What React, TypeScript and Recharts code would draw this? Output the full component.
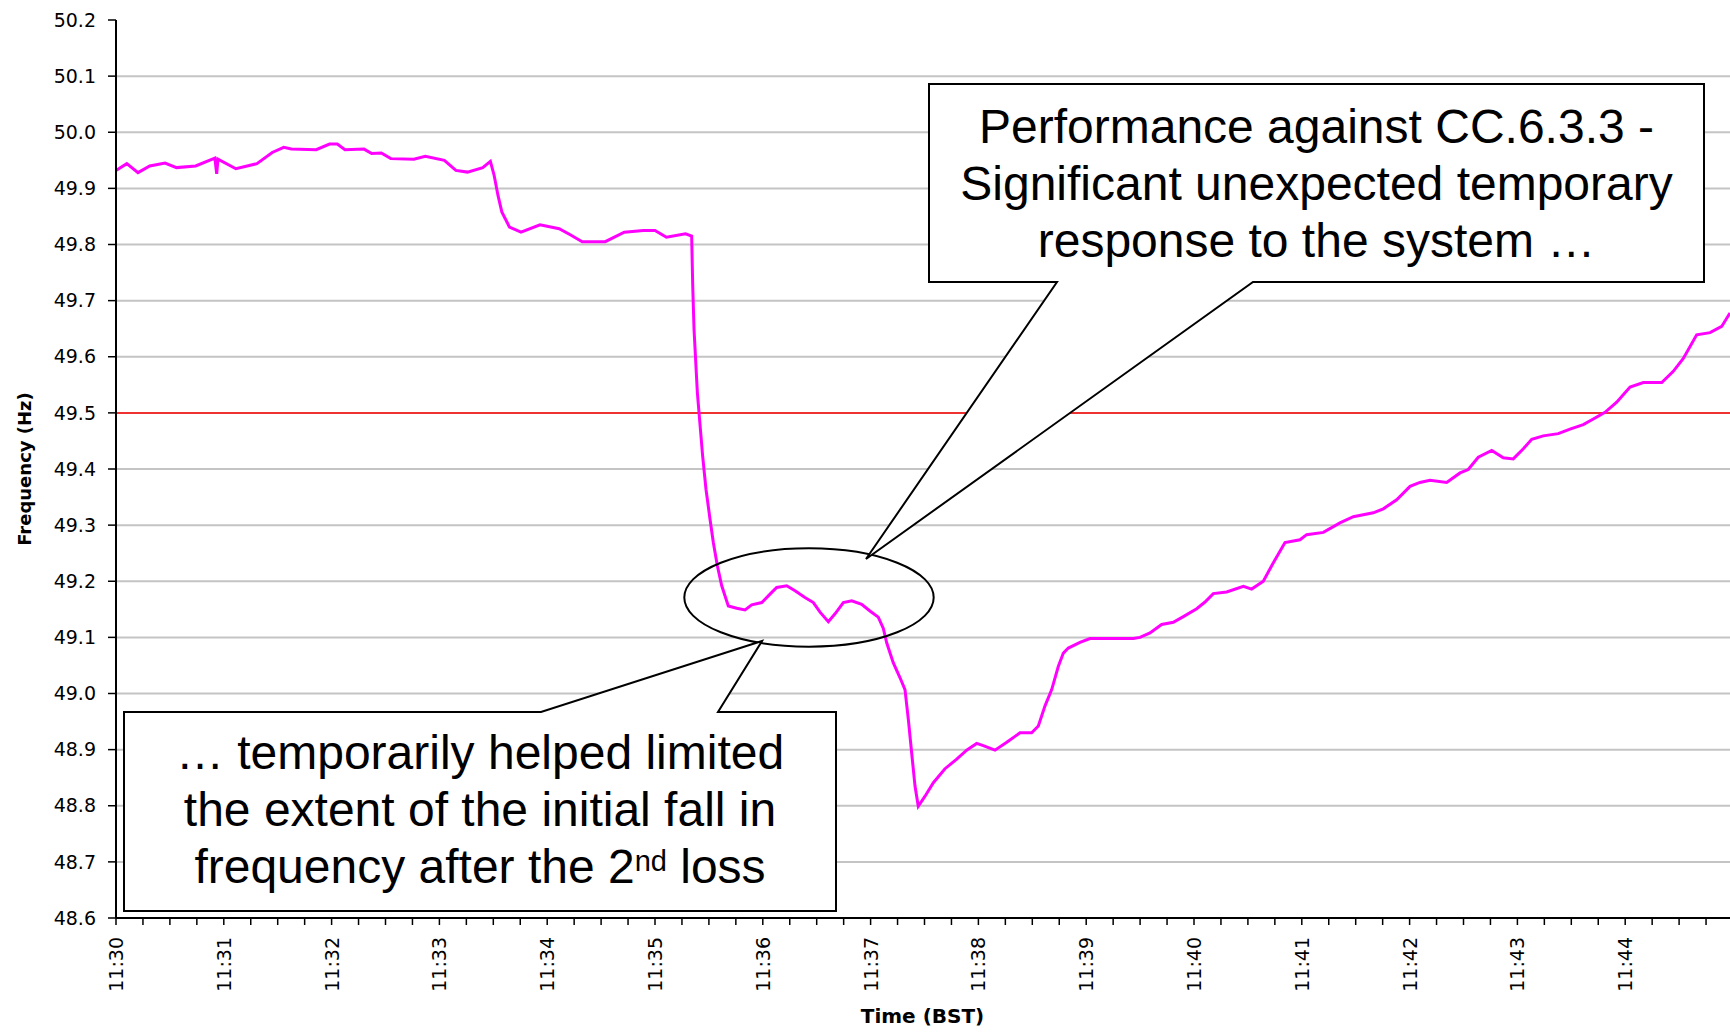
import React from 'react';
import { LineChart, Line, XAxis, YAxis, CartesianGrid, ReferenceLine, Label } from 'recharts';

// minutes after 11:30
const TIME_MIN = [
  0, 0.1, 0.204, 0.313, 0.455, 0.561, 0.739, 0.917, 0.934, 0.946,
  1.112, 1.307, 1.449, 1.556, 1.626, 1.857, 1.981, 2.053, 2.124, 2.301,
  2.372, 2.461, 2.549, 2.763, 2.869, 3.046, 3.153, 3.26, 3.402, 3.473,
  3.508, 3.544, 3.579, 3.65, 3.757, 3.933, 4.111, 4.218, 4.325, 4.538,
  4.715, 4.892, 5.0, 5.106, 5.283, 5.34, 5.35, 5.362, 5.38, 5.393,
  5.411, 5.442, 5.473, 5.51, 5.541, 5.578, 5.619, 5.68, 5.758, 5.835,
  5.897, 5.99, 6.067, 6.129, 6.222, 6.299, 6.391, 6.469, 6.531, 6.608,
  6.67, 6.747, 6.825, 6.917, 6.994, 7.071, 7.118, 7.15, 7.21, 7.273,
  7.319, 7.35, 7.381, 7.412, 7.442, 7.505, 7.582, 7.69, 7.799, 7.891,
  7.984, 8.045, 8.154, 8.263, 8.386, 8.494, 8.556, 8.618, 8.68, 8.741,
  8.788, 8.834, 8.942, 9.035, 9.251, 9.437, 9.499, 9.592, 9.7, 9.808,
  9.901, 10.025, 10.102, 10.179, 10.303, 10.458, 10.535, 10.643, 10.736, 10.844,
  10.983, 11.045, 11.2, 11.354, 11.478, 11.663, 11.756, 11.88, 12.004, 12.096,
  12.189, 12.344, 12.468, 12.544, 12.637, 12.762, 12.869, 12.962, 13.055, 13.133,
  13.24, 13.379, 13.488, 13.611, 13.704, 13.813, 13.921, 14.045, 14.168, 14.339,
  14.446, 14.539, 14.663, 14.787, 14.895, 14.972,
];

const FREQ_HZ = [
  49.932, 49.944, 49.928, 49.94, 49.945, 49.937, 49.94, 49.954, 49.926, 49.952,
  49.935, 49.944, 49.964, 49.973, 49.97, 49.969, 49.979, 49.979, 49.969, 49.97,
  49.962, 49.963, 49.953, 49.952, 49.957, 49.95, 49.932, 49.929, 49.937, 49.948,
  49.923, 49.887, 49.858, 49.831, 49.822, 49.835, 49.828, 49.817, 49.805, 49.805,
  49.822, 49.825, 49.825, 49.813, 49.819, 49.815, 49.726, 49.649, 49.583, 49.536,
  49.494, 49.423, 49.364, 49.311, 49.269, 49.228, 49.192, 49.156, 49.152, 49.149,
  49.158, 49.162, 49.177, 49.189, 49.192, 49.183, 49.171, 49.162, 49.145, 49.128,
  49.142, 49.162, 49.165, 49.159, 49.147, 49.136, 49.116, 49.09, 49.055, 49.028,
  49.007, 48.954, 48.894, 48.835, 48.799, 48.817, 48.841, 48.866, 48.883, 48.899,
  48.911, 48.907, 48.899, 48.913, 48.93, 48.93, 48.942, 48.978, 49.007, 49.048,
  49.072, 49.081, 49.091, 49.098, 49.098, 49.098, 49.1, 49.108, 49.123, 49.127,
  49.137, 49.151, 49.163, 49.178, 49.181, 49.191, 49.186, 49.2, 49.233, 49.269,
  49.274, 49.283, 49.287, 49.304, 49.315, 49.322, 49.329, 49.345, 49.369, 49.376,
  49.38, 49.376, 49.393, 49.399, 49.421, 49.433, 49.42, 49.418, 49.436, 49.453,
  49.459, 49.463, 49.471, 49.479, 49.489, 49.501, 49.519, 49.546, 49.554, 49.554,
  49.574, 49.597, 49.639, 49.643, 49.654, 49.678,
];

const MINUTE_LABELS = [
  '11:30', '11:31', '11:32', '11:33', '11:34', '11:35', '11:36', '11:37',
  '11:38', '11:39', '11:40', '11:41', '11:42', '11:43', '11:44',
];
const QUARTERS = [0, 0.25, 0.5, 0.75];
const Y_TICKS = [48.6, 48.7, 48.8, 48.9, 49.0, 49.1, 49.2, 49.3, 49.4, 49.5, 49.6, 49.7, 49.8, 49.9, 50.0, 50.1, 50.2];
const GRID_VALUES = Y_TICKS.slice(1, -1);
const LIMIT_HZ = 49.5;

const rows = TIME_MIN.map((t, i) => ({ t, f: FREQ_HZ[i] }));
const xTicks = MINUTE_LABELS.flatMap((_, m) => QUARTERS.map((q) => m + q));

const AXIS_FONT = '"DejaVu Sans", Verdana, sans-serif';
const BOX_FONT = '"Liberation Sans", Arial, sans-serif';

const TimeTick = (props: any) => {
  const { x, y, payload } = props;
  const v = payload.value;
  const label = MINUTE_LABELS[Math.round(v)];
  if (Math.abs(v - Math.round(v)) > 1e-6 || !label) return <g />;
  return (
    <text
      x={x}
      y={y}
      transform={`rotate(-90, ${x}, ${y})`}
      textAnchor="end"
      dominantBaseline="central"
      fontFamily={AXIS_FONT}
      fontSize={19}
      fill="#000"
    >
      {label}
    </text>
  );
};

const XTitle = (props: any) => {
  const vb = props.viewBox || { x: 116, y: 918, width: 1617, height: 114 };
  return (
    <text x={vb.x + vb.width / 2 - 2} y={vb.y + 105} textAnchor="middle" fontFamily={AXIS_FONT} fontWeight="bold" fontSize={20} fill="#000">
      Time (BST)
    </text>
  );
};

const YTitle = (props: any) => {
  const vb = props.viewBox || { x: 0, y: 20, width: 116, height: 898 };
  const cx = 24;
  const cy = vb.y + vb.height / 2;
  return (
    <text
      x={cx}
      y={cy}
      transform={`rotate(-90, ${cx}, ${cy})`}
      textAnchor="middle"
      dominantBaseline="central"
      fontFamily={AXIS_FONT}
      fontWeight="bold"
      fontSize={18}
      fill="#000"
    >
      Frequency (Hz)
    </text>
  );
};

const Annotations = () => (
  <svg width={1730} height={1032} style={{ position: 'absolute', left: 0, top: 0, pointerEvents: 'none' }}>
    <ellipse cx={809} cy={597.5} rx={124.7} ry={49.2} fill="none" stroke="#000" strokeWidth={2} />
    <path
      d="M929,84 H1704 V282 H1253 L866,559 L1057,282 H929 Z"
      fill="#fff"
      stroke="#000"
      strokeWidth={2}
    />
    <g fontFamily={BOX_FONT} fontSize={48} fill="#000" textAnchor="middle">
      <text x={1316.5} y={143}>Performance against CC.6.3.3 -</text>
      <text x={1316.5} y={200}>Significant unexpected temporary</text>
      <text x={1316.5} y={257}>response to the system …</text>
    </g>
    <path
      d="M124,712 H541 L762,641 L718,712 H836 V911 H124 Z"
      fill="#fff"
      stroke="#000"
      strokeWidth={2}
    />
    <g fontFamily={BOX_FONT} fontSize={48} fill="#000" textAnchor="middle">
      <text x={480} y={769}>… temporarily helped limited</text>
      <text x={480} y={826}>the extent of the initial fall in</text>
      <text x={480} y={883}>
        frequency after the 2<tspan fontSize={29} dy={-12}>nd</tspan>
        <tspan dy={12}> loss</tspan>
      </text>
    </g>
  </svg>
);

export default function App() {
  return (
    <div style={{ position: 'absolute', left: 0, top: 0, width: 1730, height: 1032, overflow: 'hidden', background: '#fff' }}>
      <LineChart width={1733} height={1032} data={rows} margin={{ top: 20, right: 0, bottom: 0, left: 0 }}>
        <CartesianGrid vertical={false} horizontalValues={GRID_VALUES} stroke="#c4c4c4" strokeWidth={2} />
        <XAxis
          dataKey="t"
          type="number"
          domain={[0, 15]}
          ticks={xTicks}
          interval={0}
          height={114}
          tickSize={7}
          tickMargin={12}
          tick={<TimeTick />}
          axisLine={{ stroke: '#000', strokeWidth: 2 }}
          tickLine={{ stroke: '#000', strokeWidth: 1.5 }}
          allowDataOverflow
        >
          <Label content={<XTitle />} />
        </XAxis>
        <YAxis
          type="number"
          domain={[48.6, 50.2]}
          ticks={Y_TICKS}
          interval={0}
          width={116}
          tickSize={8}
          tickMargin={12}
          tickFormatter={(v: number) => v.toFixed(1)}
          tick={{ fontFamily: AXIS_FONT, fontSize: 19, fill: '#000' }}
          axisLine={{ stroke: '#000', strokeWidth: 2 }}
          tickLine={{ stroke: '#000', strokeWidth: 1.5 }}
          allowDataOverflow
        >
          <Label content={<YTitle />} />
        </YAxis>
        <ReferenceLine y={LIMIT_HZ} stroke="#ff0000" strokeWidth={1.5} />
        <Line
          type="linear"
          dataKey="f"
          stroke="#ff00ff"
          strokeWidth={3}
          dot={false}
          isAnimationActive={false}
        />
      </LineChart>
      <Annotations />
    </div>
  );
}
